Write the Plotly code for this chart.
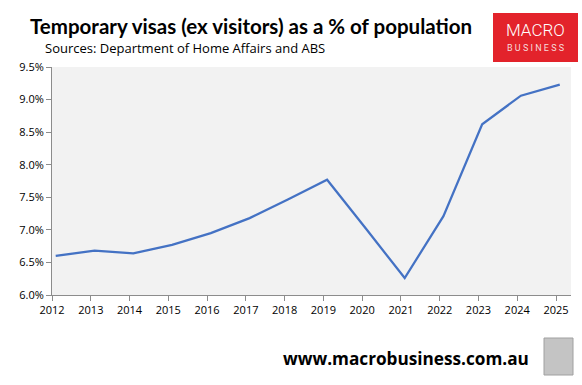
import plotly.graph_objects as go

years = [2012, 2013, 2014, 2015, 2016, 2017, 2018, 2019, 2020, 2021, 2022, 2023, 2024, 2025]
share_pct = [6.60, 6.68, 6.64, 6.77, 6.95, 7.18, 7.47, 7.77, 7.02, 6.26, 7.21, 8.62, 9.06, 9.23]
obs_dates = [f"{y}-02-05" for y in years]
tick_dates = [f"{y}-01-01" for y in years]
tick_labels = [str(y) for y in years]
y_ticks = [6.0, 6.5, 7.0, 7.5, 8.0, 8.5, 9.0, 9.5]
y_tick_labels = [f"{v:.1f}%" for v in y_ticks]

fig = go.Figure()
fig.add_trace(go.Scatter(
    x=obs_dates, y=share_pct, mode="lines",
    line=dict(color="#4472c4", width=2.25),
    showlegend=False, hoverinfo="skip",
))

axis_col = "#8c8c8c"
fig.update_layout(
    width=582, height=385,
    margin=dict(l=52, r=11, t=67, b=90),
    paper_bgcolor="white", plot_bgcolor="#f2f2f2",
    font=dict(family="Open Sans", color="#000000", size=11),
    xaxis=dict(
        type="date", range=["2012-01-01", "2025-05-22"],
        tickvals=tick_dates, ticktext=tick_labels,
        showgrid=False, zeroline=False,
        showline=True, linecolor=axis_col, linewidth=1,
        ticks="outside", ticklen=5, tickcolor=axis_col,
        tickfont=dict(size=11, color="#000"),
    ),
    yaxis=dict(
        range=[6.0, 9.5], tickvals=y_ticks, ticktext=y_tick_labels,
        showgrid=False, zeroline=False,
        showline=True, linecolor=axis_col, linewidth=1,
        ticks="outside", ticklen=5, tickcolor=axis_col,
        tickfont=dict(size=11, color="#000"),
    ),
)

# Title and subtitle
fig.add_annotation(
    text="<b>Temporary visas (ex visitors) as a % of population</b>",
    xref="paper", yref="paper", x=(28 - 52) / 519, y=1 + (67 - 26) / 228,
    xanchor="left", yanchor="middle", showarrow=False,
    font=dict(family="Lato", size=20.5, color="#000"),
)
fig.add_annotation(
    text="Sources: Department of Home Affairs and ABS",
    xref="paper", yref="paper", x=(43 - 52) / 519, y=1 + (67 - 48) / 228,
    xanchor="left", yanchor="middle", showarrow=False,
    font=dict(family="Open Sans", size=13, color="#000"),
)

# Logo box
fig.add_shape(type="rect", xref="paper", yref="paper",
              x0=(493 - 52) / 519, x1=(578 - 52) / 519,
              y0=1 + (67 - 62) / 228, y1=1 + (67 - 13) / 228,
              fillcolor="#e3232b", line=dict(width=0), layer="above")
fig.add_annotation(
    text="MACRO", xref="paper", yref="paper",
    x=(535 - 52) / 519, y=1 + (67 - 29.5) / 228, xanchor="center", yanchor="middle",
    showarrow=False, font=dict(family="Roboto", size=17, color="white", weight=300),
)
fig.add_annotation(
    text="B U S I N E S S", xref="paper", yref="paper",
    x=(535 - 52) / 519, y=1 + (67 - 48) / 228, xanchor="center", yanchor="middle",
    showarrow=False, font=dict(family="Roboto", size=9, color="#f6dcdc", weight=400),
)

# Footer
fig.add_annotation(
    text="<b>www.macrobusiness.com.au</b>", xref="paper", yref="paper",
    x=(531 - 52) / 519, y=-(358 - 295) / 228, xanchor="right", yanchor="middle",
    showarrow=False, font=dict(family="Open Sans", size=17.2, color="#000"),
)
fig.add_shape(type="rect", xref="paper", yref="paper",
              x0=(544 - 52) / 519, x1=(573 - 52) / 519,
              y0=-(375 - 295) / 228, y1=-(338 - 295) / 228,
              fillcolor="#c4c4c4", line=dict(color="#a0a0a0", width=1))

fig.write_html("out.html", config={"displayModeBar": False},
               post_script="document.body.style.margin='0';")
